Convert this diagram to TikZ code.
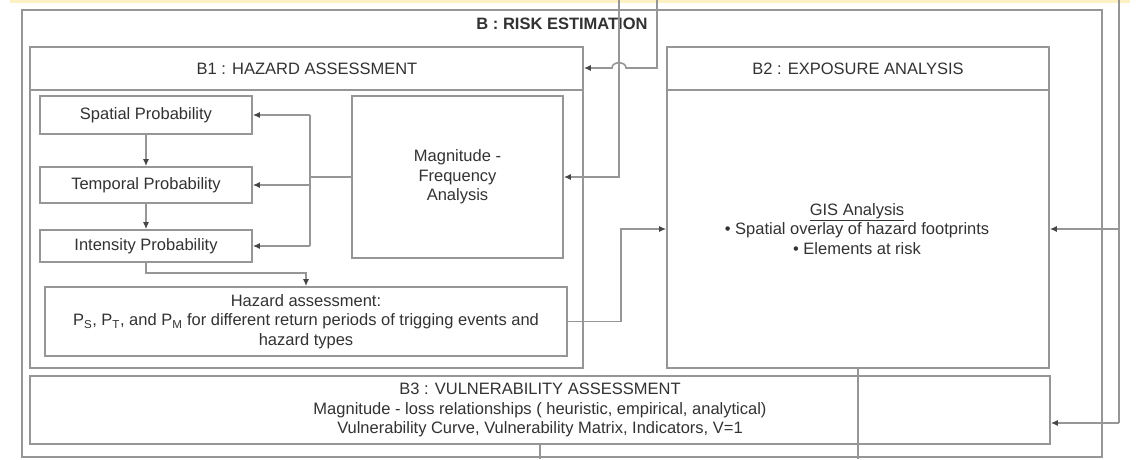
\documentclass[tikz,border=0pt]{standalone}
\usepackage{fontspec}
\setmainfont{Liberation Sans}
\usetikzlibrary{arrows.meta}
\definecolor{ln}{RGB}{150,150,150}
\definecolor{tx}{RGB}{50,50,50}
\definecolor{ah}{RGB}{70,70,70}
\definecolor{topband}{RGB}{253,240,195}
\begin{document}
\begin{tikzpicture}[x=1pt,y=-1pt,
  box/.style={draw=ln,line width=1.6pt,inner sep=0pt,anchor=center,
    text=tx,font=\fontsize{16.5}{19.5}\selectfont,align=center},
  lbl/.style={text=tx,font=\fontsize{16.5}{19.5}\selectfont,align=center,inner sep=0pt},
  conn/.style={draw=ln,line width=1.6pt},
  arr/.style={conn,-{Latex[length=7pt,width=6pt,color=ah]}},
]
\useasboundingbox (0,0) rectangle (1145,459);
\path[fill=topband] (10,0) rectangle (1130,2.5);

% containers
\node[box,minimum width=1080pt,minimum height=447pt] (B) at (562,233.5) {};
\node[lbl,font=\fontsize{16.5}{19.5}\selectfont\bfseries] (Btitle) at (562,24) {B : RISK ESTIMATION};

\node[box,minimum width=553pt,minimum height=321pt] (B1) at (306.5,207.5) {};
\draw[conn] (30,90) -- (583,90);
\node[lbl] (B1title) at (307,69) {B1 : HAZARD ASSESSMENT};

\node[box,minimum width=382pt,minimum height=321pt] (B2) at (858,207.5) {};
\draw[conn] (667,90) -- (1049,90);
\node[lbl] (B2title) at (858,69) {B2 : EXPOSURE ANALYSIS};

\node[box,minimum width=1020pt,minimum height=68pt] (B3) at (540,410)
  {B3 : VULNERABILITY ASSESSMENT\\
   Magnitude - loss relationships ( heuristic, empirical, analytical)\\
   Vulnerability Curve, Vulnerability Matrix, Indicators, V=1};

% inner boxes
\node[box,minimum width=212pt,minimum height=38pt] (Spatial) at (146,115) {Spatial Probability};
\node[box,minimum width=212pt,minimum height=36pt] (Temporal) at (146,185) {Temporal Probability};
\node[box,minimum width=212pt,minimum height=32pt] (Intensity) at (146,246) {Intensity Probability};
\node[box,minimum width=522pt,minimum height=69pt] (Hazard) at (306,321.5)
  {Hazard assessment:\\
   P\textsubscript{S}, P\textsubscript{T}, and P\textsubscript{M} for different return periods of trigging events and\\
   hazard types};
\node[box,minimum width=211pt,minimum height=162pt] (Mag) at (457.5,177)
  {Magnitude -\\Frequency\\Analysis};

\node[lbl] (GIS) at (857,229)
  {\underline{GIS Analysis}\\
   \textbullet\ Spatial overlay of hazard footprints\\
   \textbullet\ Elements at risk};

% helper coordinates
\coordinate (vt) at (310,115);
\coordinate (vb) at (310,246);
\coordinate (ta) at (619,0);
\coordinate (tb) at (657,0);
\coordinate (hop) at (657,68);
\coordinate (hx) at (621,0);
\coordinate (rt) at (1119,0);
\coordinate (r2) at (1119,229);
\coordinate (r3) at (1119,423);
\coordinate (bb) at (0,459);

% connectors inside B1
\draw[arr] (Spatial) -- (Temporal);
\draw[arr] (Temporal) -- (Intensity);
\draw[arr] (Intensity.south) -- ++(0,10) -| (Hazard.north);
\draw[conn] (Mag.west) -- (Mag.west -| vt);
\draw[conn] (vt) -- (vb);
\draw[arr] (vt) -- (Spatial.east);
\draw[arr] (vt |- Temporal.east) -- (Temporal.east);
\draw[arr] (vb) -- (Intensity.east);

% incoming from top
\draw[arr] (ta) -- (ta |- Mag.east) -- (Mag.east);
\draw[arr] (tb) -- (hop) -- (626,68) .. controls (626,61) and (612,61) .. (612,68) -- (hop -| B1.east);

% hazard to exposure
\draw[arr] (Hazard.east) -- (Hazard.east -| hx) |- (B2.west |- r2);

% right side feed
\draw[conn] (rt) -- (r3);
\draw[arr] (r3) -- (r3 -| B3.east);
\draw[arr] (r2) -- (r2 -| B2.east);

% outgoing at bottom
\draw[conn] (B2.south) -- (B2.south |- bb);
\draw[conn] (B3.south) -- (B3.south |- bb);
\end{tikzpicture}
\end{document}
